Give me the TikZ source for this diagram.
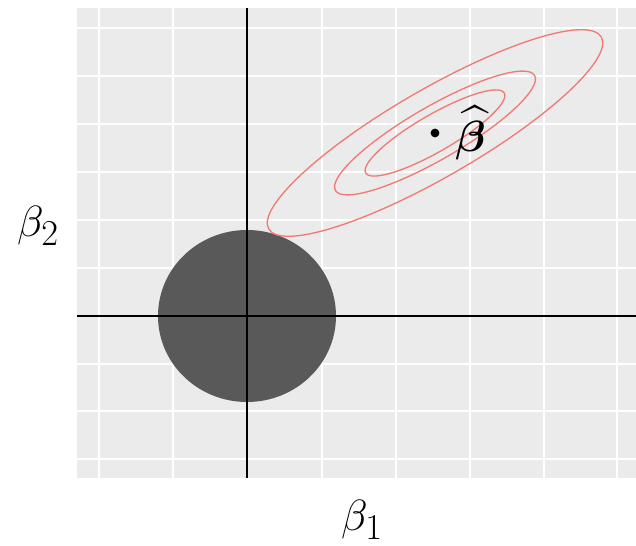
\documentclass[tikz,border=0pt]{standalone}
\usepackage{amsmath,amssymb}
\usepackage{tikz}

\definecolor{panelgray}{HTML}{EBEBEB}
\definecolor{ballgray}{HTML}{595959}
\definecolor{rsscol}{HTML}{F07A72}

\tikzset{
 gridline/.style={white, line width=0.6pt},
 axisline/.style={black, line width=1pt},
 contour/.style={rsscol, line width=0.75pt},
 biglabel/.style={inner sep=0pt, font=\fontsize{28}{32}\selectfont}
}

\begin{document}
\begin{tikzpicture}[x=0.02cm, y=-0.02cm]
 \useasboundingbox (0,0) rectangle (636,546);
 % panel and grid
 \fill[panelgray] (77,8) rectangle (636,478);
 \draw[gridline] (99,8) -- (99,478);
 \draw[gridline] (173,8) -- (173,478);
 \draw[gridline] (322,8) -- (322,478);
 \draw[gridline] (396,8) -- (396,478);
 \draw[gridline] (470,8) -- (470,478);
 \draw[gridline] (544,8) -- (544,478);
 \draw[gridline] (617,8) -- (617,478);
 \draw[gridline] (77,28) -- (636,28);
 \draw[gridline] (77,76) -- (636,76);
 \draw[gridline] (77,124) -- (636,124);
 \draw[gridline] (77,172) -- (636,172);
 \draw[gridline] (77,220) -- (636,220);
 \draw[gridline] (77,268) -- (636,268);
 \draw[gridline] (77,364) -- (636,364);
 \draw[gridline] (77,411) -- (636,411);
 \draw[gridline] (77,459) -- (636,459);
 % constraint region
 \coordinate (O) at (247,316);
 \fill[ballgray] (O) ellipse [x radius=89, y radius=86];
 % contours of the RSS
 \coordinate (C) at (435,133);
 \draw[contour, rotate around={30:(C)}] (C) ellipse [x radius=192, y radius=44];
 \draw[contour, rotate around={30:(C)}] (C) ellipse [x radius=115, y radius=26.5];
 \draw[contour, rotate around={30:(C)}] (C) ellipse [x radius=80, y radius=18.5];
 % axes
 \coordinate (Atop) at (247,8);
 \coordinate (Abot) at (247,478);
 \coordinate (Aleft) at (77,316);
 \coordinate (Aright) at (636,316);
 \draw[axisline] (Atop) -- (Abot);
 \draw[axisline] (Aleft) -- (Aright);
 % estimate and labels
 \node[circle, fill=black, inner sep=0pt, minimum size=5pt] (bhat) at (C) {};
 \node[biglabel, anchor=west] (bhatlab) at (455,133) {$\boldsymbol{\widehat{\beta}}$};
 \node[biglabel] (beta2) at (38,226) {$\beta_2$};
 \node[biglabel] (beta1) at (362,520) {$\beta_1$};
\end{tikzpicture}
\end{document}
